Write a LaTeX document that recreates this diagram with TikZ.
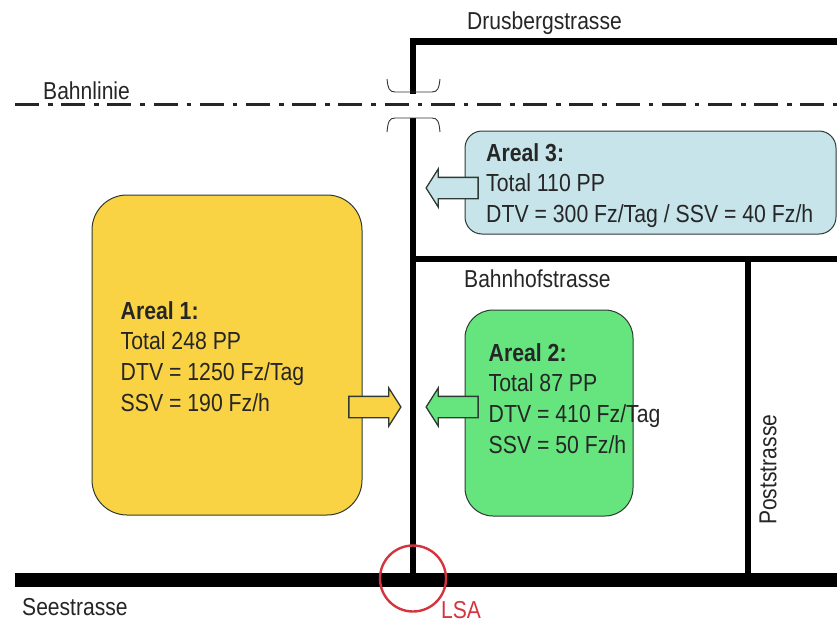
\documentclass[tikz,border=0pt]{standalone}
\usepackage{fontspec}
\setmainfont[FakeStretch=0.86]{Liberation Sans}
\usetikzlibrary{arrows.meta, positioning, calc, shapes.arrows}
\definecolor{arealgelb}{HTML}{FAD345}
\definecolor{arealgruen}{HTML}{66E57F}
\definecolor{arealblau}{HTML}{C6E4E9}
\definecolor{lsarot}{HTML}{D5343F}
\definecolor{randgrau}{HTML}{2E3A33}
\tikzset{
  strasse/.style={draw=black,line width=#1},
  areal/.style={draw=randgrau,line width=1pt,minimum width=#1},
  infotext/.style={anchor=north west,align=left,font=\fontsize{24.7}{30.7}\selectfont,text=black!85,inner sep=0pt},
  label/.style={font=\fontsize{24.5}{28}\selectfont,text=black!85,inner sep=0pt},
  pfeil/.style={single arrow,draw=randgrau,line width=1.3pt,minimum width=38pt,minimum height=52pt,
    single arrow head extend=8.5pt,single arrow tip angle=115,inner xsep=0pt,inner ysep=10pt},
  klammer/.style={draw=black!80,line width=0.9pt}
}

\begin{document}
\begin{tikzpicture}[x=1pt,y=-1pt]
  \useasboundingbox (0,0) rectangle (837,624);
  % Flaechen
  \node[areal=270pt,minimum height=320pt,rounded corners=35pt,fill=arealgelb] (areal1) at (227,355) {};
  \node[areal=168pt,minimum height=206pt,rounded corners=28pt,fill=arealgruen] (areal2) at (549,413) {};
  \node[areal=371pt,minimum height=103pt,rounded corners=17pt,fill=arealblau] (areal3) at (650.5,182.5) {};
  % Strassen
  \coordinate (drusW) at (413,41.7);
  \coordinate (drusE) at (837,41.7);
  \coordinate (bahnhofW) at (413,259);
  \coordinate (bahnhofE) at (837,259);
  \coordinate (postN) at (748,259);
  \coordinate (postS) at (748,575);
  \coordinate (seeW) at (15,579.7);
  \coordinate (seeE) at (837,579.7);
  \coordinate (querN) at (413,91);
  \coordinate (querM) at (413,118);
  \coordinate (querS) at (413,575);
  \draw[strasse=6.5pt,line cap=rect] (querN) -- (drusW) -- (drusE);
  \draw[strasse=6pt] (querM) -- (querS);
  \draw[strasse=6pt] (bahnhofW) -- (bahnhofE);
  \draw[strasse=5.5pt] (postN) -- (postS);
  \draw[strasse=14pt] (seeW) -- (seeE);
  % Bahnlinie
  \coordinate (bahnW) at (15,104.5);
  \coordinate (bahnE) at (837,104.5);
  \draw[line width=3pt,black!85,dash pattern=on 24pt off 9pt on 4.5pt off 8.7pt] (bahnW) -- (bahnE);
  \draw[klammer] (387,79) .. controls (388,88) and (389,92) .. (395,92) -- (432,92) .. controls (438,92) and (439,88) .. (440,79);
  \draw[klammer] (387,132) .. controls (388,122) and (389,118) .. (395,118) -- (432,118) .. controls (438,118) and (439,122) .. (440,132);
  % Pfeile
  \node[pfeil,fill=arealgelb] (pfeil1) at (371.5,407) {};
  \node[pfeil,fill=arealgruen,shape border rotate=180] (pfeil2) at (455.5,407) {};
  \node[pfeil,fill=arealblau,shape border rotate=180] (pfeil3) at (455.5,188) {};
  % Texte
  \node[infotext] (text1) at (120.5,301) {\textbf{Areal 1:}\\Total 248 PP\\DTV = 1250 Fz/Tag\\SSV = 190 Fz/h};
  \node[infotext] (text2) at (488.5,343) {\textbf{Areal 2:}\\Total 87 PP\\DTV = 410 Fz/Tag\\SSV = 50 Fz/h};
  \node[infotext] (text3) at (486,143) {\textbf{Areal 3:}\\Total 110 PP\\DTV = 300 Fz/Tag / SSV = 40 Fz/h};
  \node[label,anchor=west] (drus) at (467,23) {Drusbergstrasse};
  \node[label,anchor=west] (bahnlinie) at (43,91) {Bahnlinie};
  \node[label,anchor=west] (bahnhof) at (464,279) {Bahnhofstrasse};
  \node[label,anchor=west] (see) at (22,607) {Seestrasse};
  \node[label,rotate=90,anchor=west] (post) at (768,525) {Poststrasse};
  % Lichtsignalanlage
  \node[draw=lsarot,line width=2.4pt,circle,minimum size=66pt,inner sep=0pt] (lsakreis) at (413,578.5) {};
  \node[label,text=lsarot,anchor=west] (lsa) at (441,610.5) {LSA};
\end{tikzpicture}
\end{document}
